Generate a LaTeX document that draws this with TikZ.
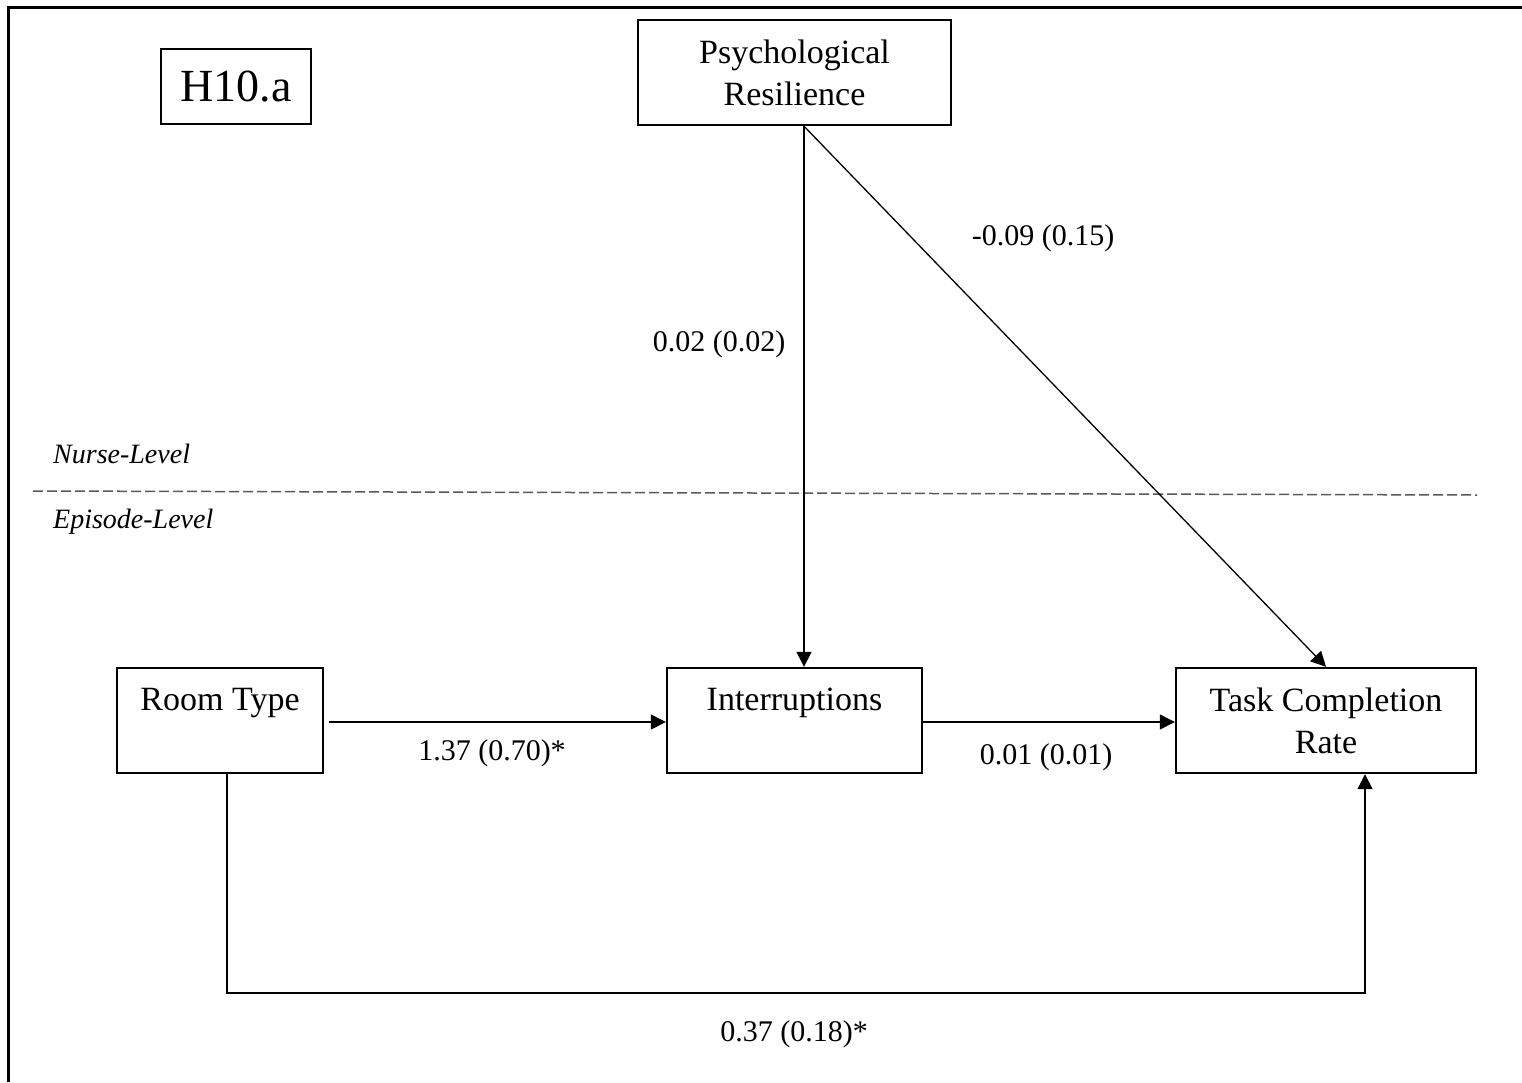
\documentclass[tikz,border=0pt]{standalone}
\usepackage{fontspec}
\setmainfont{Liberation Serif}
\usetikzlibrary{arrows.meta}
\begin{document}
\begin{tikzpicture}[x=1pt,y=-1pt,
  box/.style={draw,line width=2.4pt,rectangle,inner sep=0pt,align=center,
    font=\fontsize{34}{42}\selectfont},
  conn/.style={line width=1.3pt},
  arr/.style={conn,-{Triangle[length=15pt,width=15pt]}},
  coef/.style={font=\fontsize{30}{36}\selectfont,inner sep=0pt},
  level/.style={font=\fontsize{28}{34}\selectfont\itshape,anchor=west,inner sep=0pt},
  divider/.style={line width=1.5pt,black!65,dash pattern=on 10pt off 4pt},
  frameline/.style={line width=3pt}]
\useasboundingbox (0,0) rectangle (1522,1082);
% open frame along the top and left edges
\draw[frameline] (1522,7) -- (8,7) -- (8,1082);

% boxes
\node[box,minimum width=150pt,minimum height=75pt,font=\fontsize{46}{52}\selectfont] (hyp) at (236,86.5) {H10.a};
\node[box,minimum width=313pt,minimum height=105pt] (psych) at (794.5,72.5) {Psychological\\Resilience};
\node[box,minimum width=206pt,minimum height=105pt] (room) at (220,720.5) {Room Type\\~};
\node[box,minimum width=255pt,minimum height=105pt] (inter) at (794.5,720.5) {Interruptions\\~};
\node[box,minimum width=300pt,minimum height=105pt] (tcr) at (1326,720.5) {Task Completion\\Rate};

% level divider
\coordinate (dl) at (33,491);
\coordinate (dr) at (1477,495);
\draw[divider] (dl) -- (dr);
\node[level] (nurse) at (53,454) {Nurse-Level};
\node[level] (episode) at (53,522) {Episode-Level};

% paths
\draw[arr] ([xshift=9.5pt]psych.south) -- ([xshift=9.5pt]inter.north);
\draw[arr] ([xshift=9.5pt]psych.south) -- (tcr.north);
\draw[arr] ([xshift=5pt,yshift=-1.5pt]room.east) -- ([yshift=-1.5pt]inter.west);
\draw[arr] ([yshift=-1.5pt]inter.east) -- ([yshift=-1.5pt]tcr.west);
\coordinate (bend) at (1365,993);
\draw[arr] ([xshift=7pt]room.south) |- (bend) -- ([xshift=39pt]tcr.south);

% coefficients
\node[coef] (c1) at (719,344) {0.02 (0.02)};
\node[coef] (c2) at (1043,238) {-0.09 (0.15)};
\node[coef] (c3) at (492,753) {1.37 (0.70)*};
\node[coef] (c4) at (1046,757) {0.01 (0.01)};
\node[coef] (c5) at (794,1034) {0.37 (0.18)*};
\end{tikzpicture}
\end{document}
